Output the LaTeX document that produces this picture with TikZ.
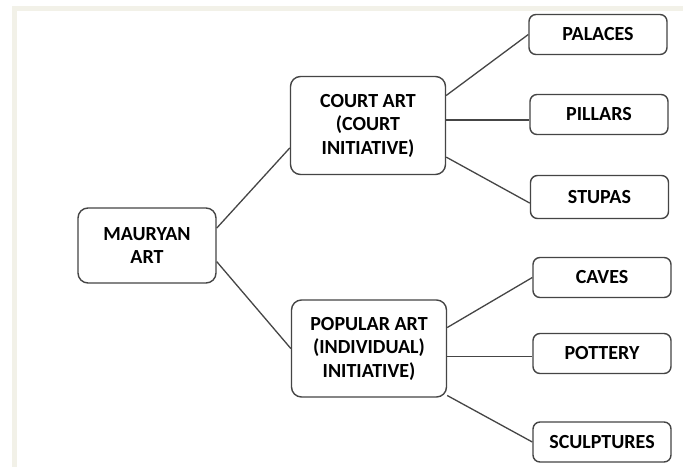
\documentclass[tikz,border=0pt]{standalone}
\usepackage{fontspec}
\setmainfont{Carlito}
\usetikzlibrary{shapes,arrows}
\definecolor{edge}{HTML}{454545}
\definecolor{paper}{HTML}{F2F1E8}
\tikzstyle{hub} = [rectangle, rounded corners=10pt, minimum width=155pt, minimum height=98pt, text centered, align=center, draw=edge, line width=1.4pt, text=black, font=\fontsize{20}{23.5}\selectfont\bfseries]
\tikzstyle{leaf} = [hub, rounded corners=7pt, minimum width=138pt, minimum height=40pt]
\tikzstyle{link} = [draw=edge, line width=1.3pt]

\begin{document}
\begin{tikzpicture}[x=1pt, y=1pt, node distance=230pt]
		\fill[white] (0,0) rectangle (687,467);
		\useasboundingbox (0,0) rectangle (687,467);
		\fill[paper] (12,456) rectangle (683,461);
		\fill[paper] (12,0) rectangle (17,461);

		\node[hub, minimum width=138pt, minimum height=75pt](maurya) at (147,221.5){MAURYAN\\ART};
		\node[hub, right of=maurya, xshift=-9pt, yshift=120pt](court){COURT ART\\(COURT\\INITIATIVE)};
		\node[hub, right of=maurya, xshift=-8pt, yshift=-103pt, minimum height=97pt](popular){POPULAR ART\\(INDIVIDUAL)\\INITIATIVE)};
		\node[leaf, right of=court, yshift=91pt](palaces){PALACES};
		\node[leaf, right of=court, xshift=1pt, yshift=11pt](pillars){PILLARS};
		\node[leaf, right of=court, xshift=1.5pt, yshift=-71.5pt, minimum height=43pt](stupas){STUPAS};
		\node[leaf, right of=popular, xshift=3pt, yshift=71pt](caves){CAVES};
		\node[leaf, right of=popular, xshift=3pt, yshift=-5pt](pottery){POTTERY};
		\node[leaf, right of=popular, xshift=3pt, yshift=-93.5pt](sculptures){SCULPTURES};

		\draw[link](maurya.14)--(court.196);
		\draw[link](maurya.347)--(popular.west);
		\draw[link](court.21)--(palaces.west);
		\draw[link](court.4)--(court.4 -| pillars.west);
		\draw[link](court.-22.5)--(stupas.185);
		\draw[link](popular.15)--(caves.west);
		\draw[link](popular.-6)--(popular.-6 -| pottery.west);
		\draw[link](popular.-31)--(sculptures.west);
	\end{tikzpicture}
\end{document}
